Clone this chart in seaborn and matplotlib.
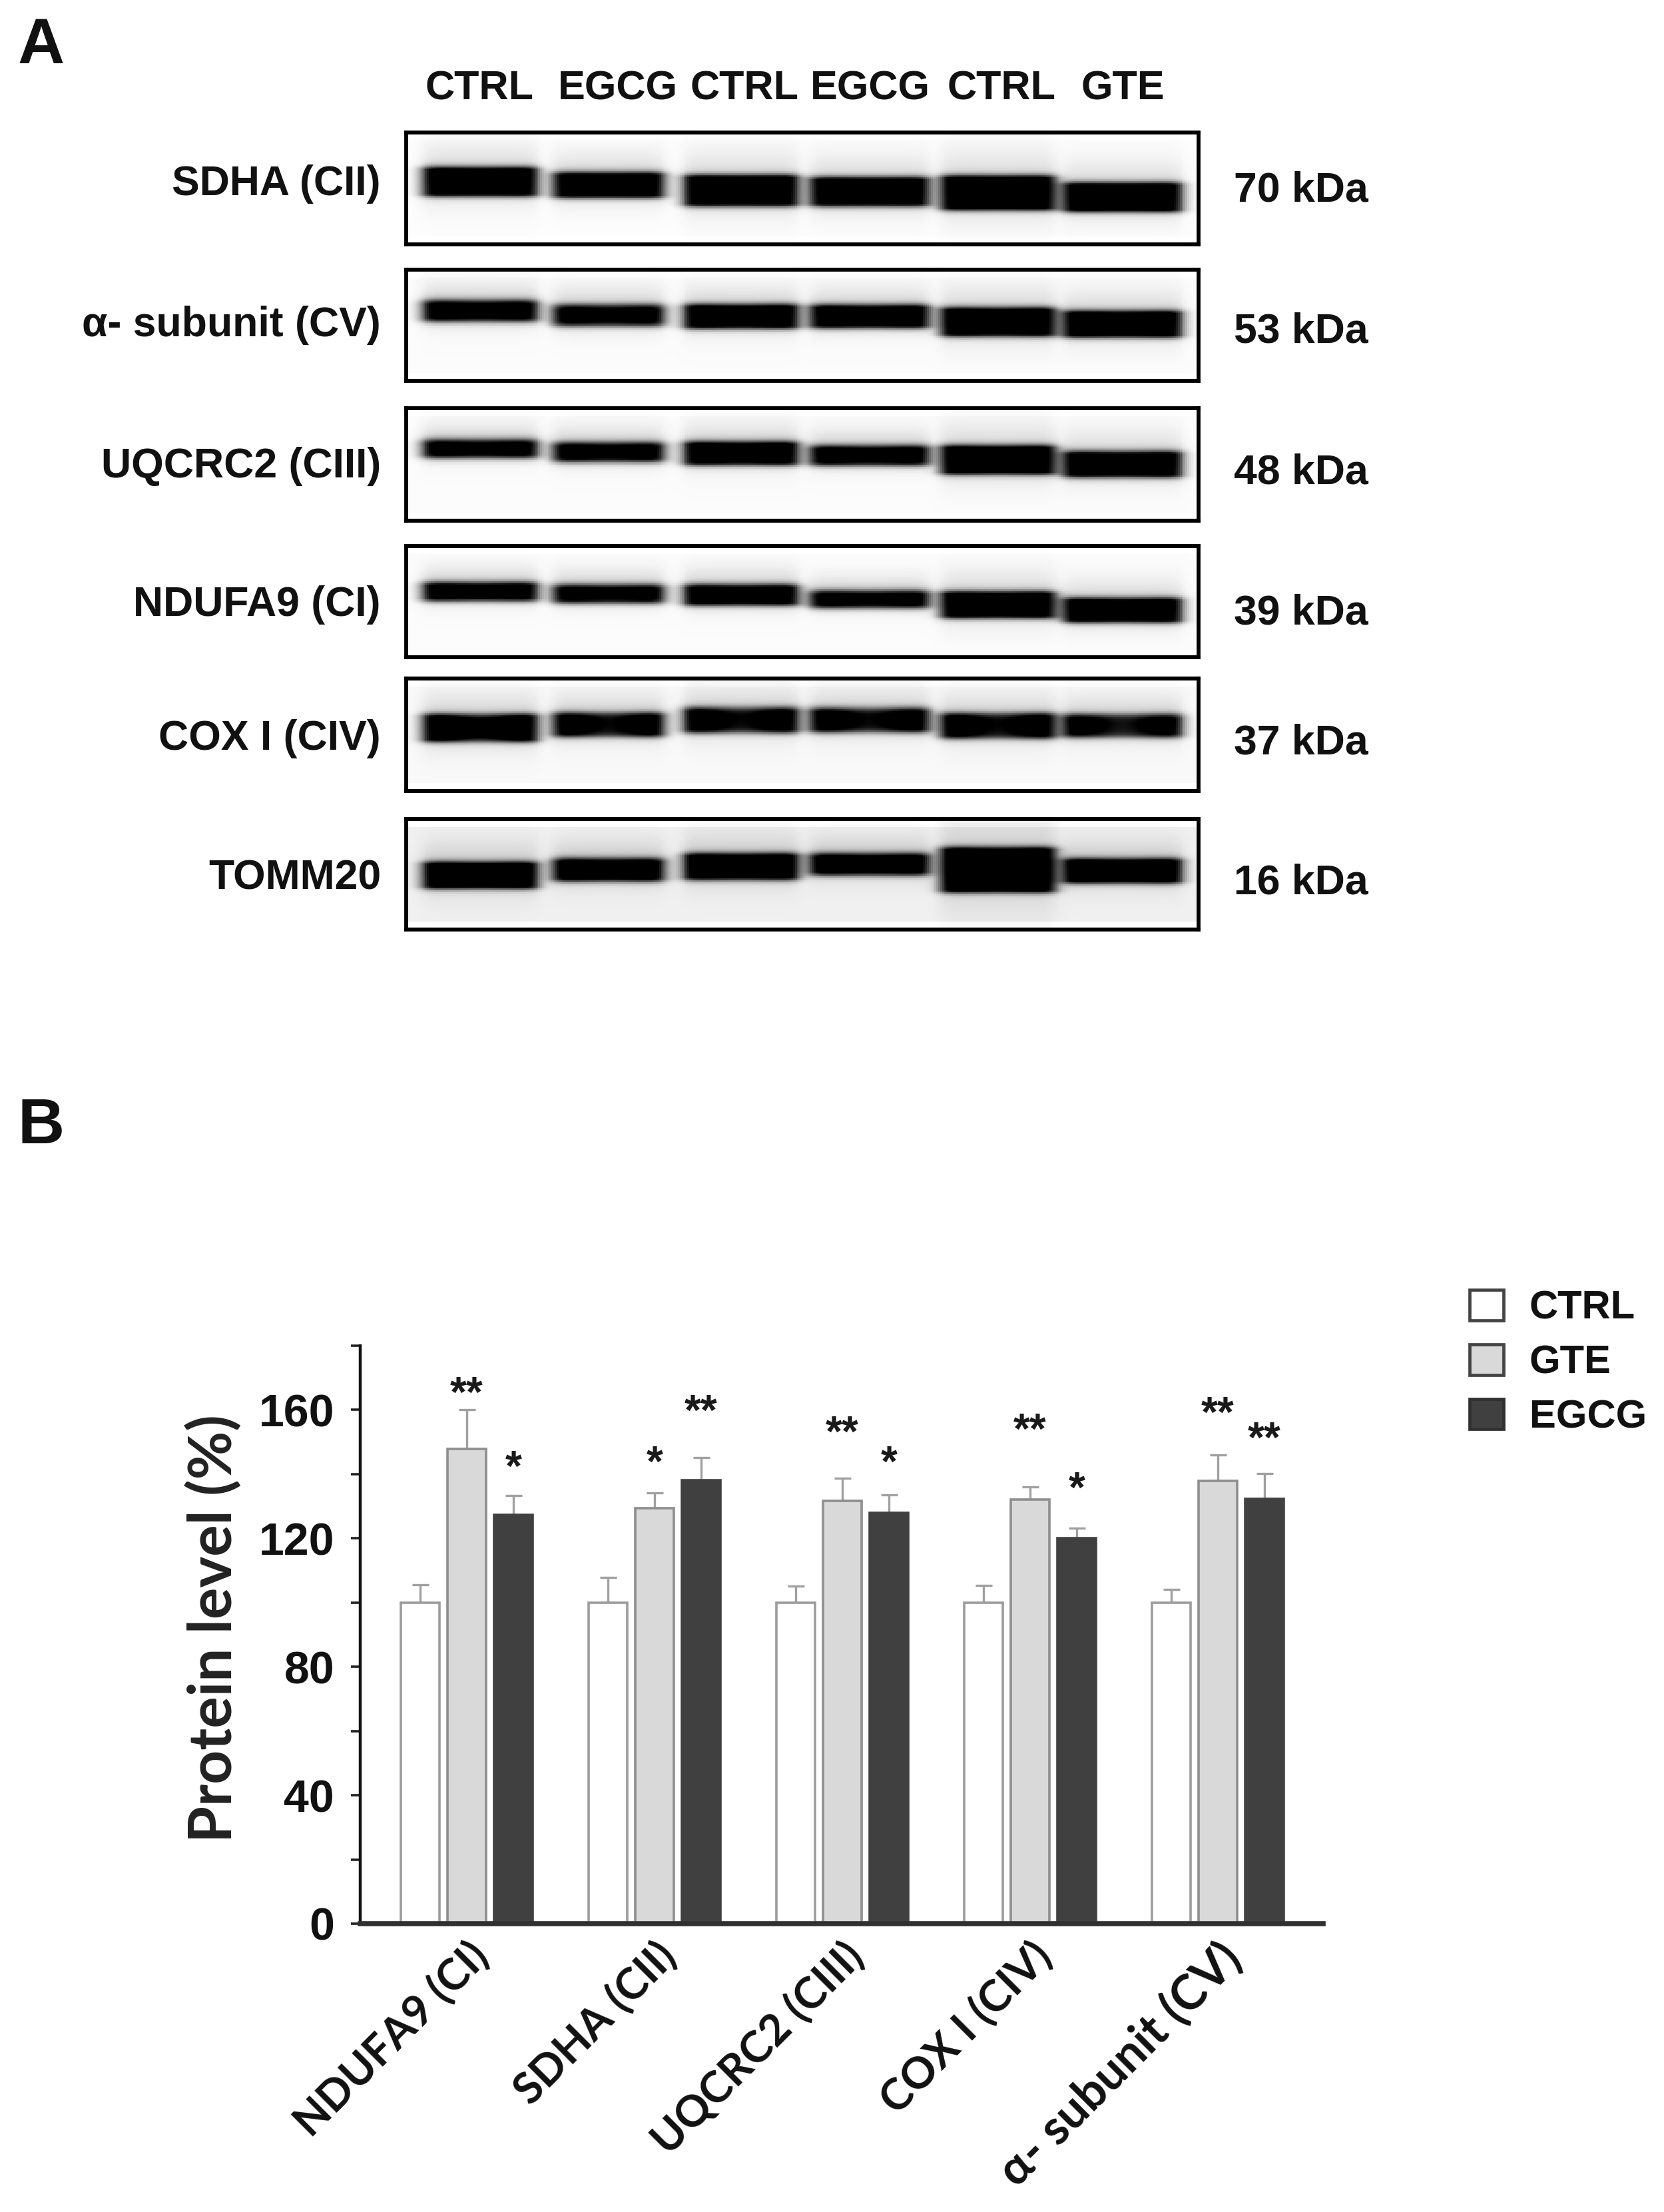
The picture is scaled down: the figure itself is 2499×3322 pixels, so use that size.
import matplotlib
matplotlib.use("Agg")
import matplotlib.pyplot as plt
from matplotlib.ticker import MultipleLocator
import numpy as np
import pandas as pd
import seaborn as sns

W, H = 2499, 3322

proteins = ["NDUFA9 (CI)", "SDHA (CII)", "UQCRC2 (CIII)", "COX I (CIV)", "\u03b1- subunit (CV)"]
groups = ["CTRL", "GTE", "EGCG"]
ctrl = [100, 100, 100, 100, 100]
gte = [147.8, 129.3, 131.7, 132.0, 137.8]
egcg = [127.3, 138.2, 128.0, 120.1, 132.3]
ctrl_err = [5.5, 7.8, 5.1, 5.4, 4.1]
gte_err = [12.2, 4.9, 7.1, 4.0, 8.1]
egcg_err = [6.0, 7.0, 5.6, 3.0, 7.9]
gte_stars = ["**", "*", "**", "**", "**"]
egcg_stars = ["*", "**", "*", "*", "**"]
# height of the stars above the error cap, in axis units
gte_star_gap = [6.8, 11.0, 15.6, 19.4, 14.7]
egcg_star_gap = [10.5, 16.0, 11.5, 14.0, 12.5]

lanes = ["CTRL", "EGCG", "CTRL", "EGCG", "CTRL", "GTE"]
blot_names = ["SDHA (CII)", "\u03b1- subunit (CV)", "UQCRC2 (CIII)", "NDUFA9 (CI)", "COX I (CIV)", "TOMM20"]
blot_kda = ["70 kDa", "53 kDa", "48 kDa", "39 kDa", "37 kDa", "16 kDa"]
# band centre and thickness per lane, percent of blot height
band_center = [
    [44, 47, 52, 53, 54, 58],
    [37, 41, 42, 42, 47, 49],
    [36, 39, 40, 42, 46, 50],
    [41, 43, 44, 48, 53, 58],
    [44, 41, 37, 37, 42, 42],
    [51, 46, 43, 41, 46, 47],
]
band_thick = [
    [25, 22, 27, 25, 30, 25],
    [19, 19, 21, 20, 25, 23],
    [16, 17, 20, 17, 25, 22],
    [16, 16, 18, 15, 23, 21],
    [24, 21, 22, 21, 22, 20],
    [23, 20, 23, 19, 40, 21],
]
band_dark = [
    [1.0, 0.95, 1.0, 1.0, 1.0, 1.0],
    [0.8, 0.75, 0.95, 0.95, 1.0, 1.0],
    [0.8, 0.8, 0.95, 0.85, 1.0, 1.0],
    [0.9, 0.8, 0.9, 0.8, 1.0, 1.0],
    [0.95, 0.85, 0.85, 0.85, 0.85, 0.8],
    [1.0, 0.85, 0.95, 0.85, 1.0, 1.0],
]
# how much lighter the middle of a band is than its ends
band_dip = [0.05, 0.1, 0.1, 0.1, 0.3, 0.1]
blot_bg = [0.01, 0.015, 0.015, 0.015, 0.025, 0.06]
lane_left = [2, 18.5, 35, 51, 67.5, 83]
lane_right = [16.5, 32.5, 49.5, 66, 82, 98]

sns.set_theme(style="white")
plt.rcParams["font.family"] = ["Liberation Sans", "DejaVu Sans"]
plt.rcParams["mathtext.default"] = "regular"


def px_axes(x0, y0, x1, y1):
    return fig.add_axes([x0 / W, 1 - y1 / H, (x1 - x0) / W, (y1 - y0) / H])


def ftext(x, y, s, **kw):
    kw.setdefault("fontweight", "bold")
    kw.setdefault("color", "#111111")
    fig.text(x / W, 1 - y / H, s, **kw)


def blot_image(centers, thicks, darks, dip, bg):
    rows = np.linspace(0, 100, 110)
    cols = np.linspace(0, 100, 420)
    yy, xx = np.meshgrid(rows, cols, indexing="ij")
    img = np.where((yy > 7) & (yy < 93), bg, 0.0)
    for c, t, d, l, r in zip(centers, thicks, darks, lane_left, lane_right):
        across = 0.5 * (np.tanh((xx - l) / 1.0) - np.tanh((xx - r) / 1.0))
        mid = (l + r) / 2
        lighter = 1 - dip * np.exp(-((xx - mid) / ((r - l) * 0.27)) ** 2)
        top = c - t / 2
        bot = c + t / 2
        core = 0.5 * (np.tanh((yy - top) / 3.4) - np.tanh((yy - bot) / 3.0))
        haze = 0.14 * np.exp(-((yy - c + 6) / (t * 1.05)) ** 2)
        img += across * (np.clip(core * d * 1.4 * lighter, 0, 1) + haze)
    return np.clip(img, 0, 1)


fig = plt.figure(figsize=(W / 100, H / 100), dpi=100, facecolor="white")

# panel A
blot_top = [199, 405, 613, 820, 1019, 1230]
blot_bottom = [367, 572, 782, 987, 1188, 1396]
name_y = [277, 489, 701, 908, 1109, 1319]
kda_y = [286, 498, 710, 921, 1116, 1326]
for i, name in enumerate(blot_names):
    ax = px_axes(610, blot_top[i], 1800, blot_bottom[i])
    sns.heatmap(blot_image(band_center[i], band_thick[i], band_dark[i], band_dip[i], blot_bg[i]), ax=ax,
                cmap="gray_r", vmin=0, vmax=1, cbar=False, xticklabels=False, yticklabels=False)
    for s in ax.spines.values():
        s.set_visible(True)
        s.set_color("black")
        s.set_linewidth(4.2)
    ftext(572, name_y[i], name, ha="right", va="center", fontsize=45)
    ftext(1853, kda_y[i], blot_kda[i], ha="left", va="center", fontsize=45)

lane_x = [720, 928, 1118, 1307, 1504, 1686]
for x, s in zip(lane_x, lanes):
    ftext(x, 134, s, ha="center", va="center", fontsize=44)

ftext(62, 70, "A", ha="center", va="center", fontsize=70)
ftext(62, 1692, "B", ha="center", va="center", fontsize=70)

# panel B
df = pd.DataFrame({
    "protein": proteins * 3,
    "group": np.repeat(groups, len(proteins)),
    "level": ctrl + gte + egcg,
})
ax = px_axes(541, 2021, 1987, 2889)
sns.barplot(data=df, x="protein", y="level", hue="group", order=proteins, hue_order=groups,
            palette=["white", "#d9d9d9", "#404040"], width=0.745, gap=0.18, errorbar=None, ax=ax)
ax.set_xlim(-0.567, 4.56)
ax.set_ylim(0, 180)

edge_colors = ["#9c9c9c", "#8e8e8e", "#404040"]
errs = [ctrl_err, gte_err, egcg_err]
means = [ctrl, gte, egcg]
for bars, edge, err, mean in zip(ax.containers, edge_colors, errs, means):
    xs = [b.get_x() + b.get_width() / 2 for b in bars]
    for b in bars:
        b.set_edgecolor(edge)
        b.set_linewidth(2.6)
        b.set_zorder(2)
    ax.errorbar(xs, mean, yerr=[np.zeros(len(err)), err], fmt="none", ecolor="#a0a0a0",
                elinewidth=2.4, capsize=9, capthick=2.4, zorder=1)

star_sets = [(1, gte_stars, gte_star_gap, gte, gte_err), (2, egcg_stars, egcg_star_gap, egcg, egcg_err)]
for idx, stars, gaps, vals, err in star_sets:
    bars = ax.containers[idx]
    for b, s, g, v, e in zip(bars, stars, gaps, vals, err):
        ax.annotate(s, (b.get_x() + b.get_width() / 2, v + e + g), xytext=(0, -20),
                    textcoords="offset points", ha="center", va="baseline",
                    fontsize=46, fontweight="bold", color="#1a1a1a")

sns.despine(ax=ax)
ax.spines["left"].set_linewidth(3.2)
ax.spines["left"].set_color("#111111")
ax.spines["bottom"].set_linewidth(5.5)
ax.spines["bottom"].set_color("#303030")
ax.spines["bottom"].set_zorder(5)
ax.yaxis.set_major_locator(MultipleLocator(40))
ax.yaxis.set_minor_locator(MultipleLocator(20))
ax.tick_params(axis="y", which="both", left=True, length=10, width=2.6, color="#222222")
ax.tick_params(axis="y", which="major", labelsize=49, pad=18)
ax.tick_params(axis="x", bottom=False, pad=6)
for t in ax.get_yticklabels():
    t.set_fontweight("bold")
    t.set_color("#111111")

ax.set_xlabel("")
ax.set_ylabel("Protein level (%)", fontsize=64, fontweight="bold", color="#222222",
              family=["Lato", "DejaVu Sans"], labelpad=0)
ax.yaxis.set_label_coords((364 - 541) / (1987 - 541), (2889 - 2446) / (2889 - 2021))

ax.set_xticks(range(len(proteins)))
ax.set_xticklabels(proteins, rotation=45, ha="right", va="top", rotation_mode="anchor",
                   fontsize=47, fontweight="bold", family=["Lato", "DejaVu Sans"], color="#111111")
ax.get_xticklabels()[-1].set_fontsize(52)

leg = ax.legend(loc="upper left", bbox_to_anchor=(2207 / W, 1 - 1937 / H), bbox_transform=fig.transFigure,
                frameon=False, fontsize=43, handlelength=0.85, handleheight=0.8, handletextpad=0.65,
                labelspacing=0.44, borderpad=0, borderaxespad=0)
for h, edge in zip(leg.legend_handles, ["#444444", "#444444", "#303030"]):
    h.set_edgecolor(edge)
    h.set_linewidth(3.4)
for t in leg.get_texts():
    t.set_fontweight("bold")
    t.set_color("#111111")

fig.savefig("out.png", dpi=100)
